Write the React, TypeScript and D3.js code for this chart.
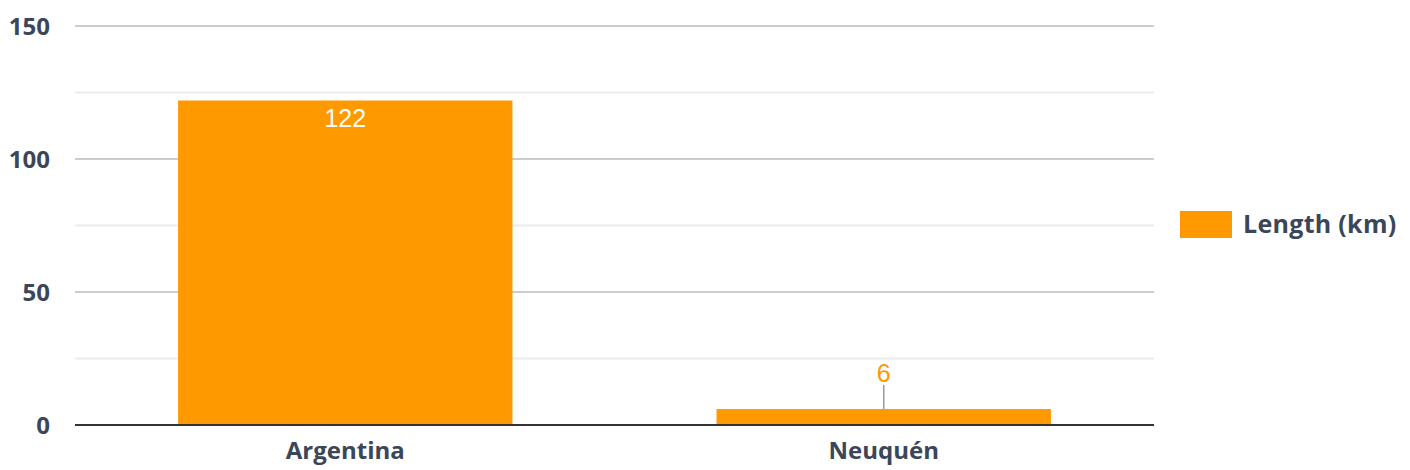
import React from "react";
import * as d3 from "d3";

const categories = ["Argentina", "Neuquén"];
const lengths = [122, 6];
const yTicks = [0, 50, 100, 150];
const minorTicks = [25, 75, 125];
const seriesName = "Length (km)";

const W = 1410;
const H = 470;
const M = { left: 75, right: 1154, top: 26, bottom: 425 };
const ORANGE = "#ff9900";
const TEXT = "#3b4658";

export default function App() {
  const x = d3.scaleBand<string>().domain(categories).range([M.left, M.right]).paddingInner(0.379).paddingOuter(0.1914);
  const y = d3.scaleLinear().domain([0, 150]).range([M.bottom, M.top]);
  return (
    <svg width={W} height={H} style={{ position: "absolute", left: 0, top: 0 }}>
      <rect width={W} height={H} fill="#fff" />
      {minorTicks.map((t) => (
        <line key={"m" + t} x1={M.left} x2={M.right} y1={y(t)} y2={y(t)} stroke="#ebebeb" strokeWidth={2} />
      ))}
      {yTicks.filter((t) => t > 0).map((t) => (
        <line key={"g" + t} x1={M.left} x2={M.right} y1={y(t)} y2={y(t)} stroke="#cccccc" strokeWidth={2} />
      ))}
      {yTicks.map((t) => (
        <text key={"t" + t} x={50} y={y(t)} dy="0.36em" textAnchor="end" fontFamily="'Open Sans', sans-serif" fontWeight={700} fontSize={24} fill={TEXT}>
          {t}
        </text>
      ))}
      {categories.map((c, i) => {
        const v = lengths[i];
        const bx = x(c)!;
        const bw = x.bandwidth();
        const top = y(v);
        const cx = bx + bw / 2;
        const inside = M.bottom - top > 40;
        return (
          <g key={c}>
            <rect x={bx} y={top} width={bw} height={M.bottom - top} fill={ORANGE} />
            {inside ? (
              <text x={cx} y={top + 27} textAnchor="middle" fontFamily="'Liberation Sans', Arial, sans-serif" fontSize={25} fill="#fff">
                {v}
              </text>
            ) : (
              <g>
                <line x1={cx} x2={cx} y1={top} y2={top - 24} stroke="#999" strokeWidth={1.5} />
                <text x={cx} y={top - 27} textAnchor="middle" fontFamily="'Liberation Sans', Arial, sans-serif" fontSize={25} fill={ORANGE}>
                  {v}
                </text>
              </g>
            )}
            <text x={cx} y={459} textAnchor="middle" fontFamily="'Open Sans', sans-serif" fontWeight={700} fontSize={24} fill={TEXT}>
              {c}
            </text>
          </g>
        );
      })}
      <line x1={M.left} x2={M.right} y1={M.bottom} y2={M.bottom} stroke="#333" strokeWidth={2} />
      <rect x={1180} y={211} width={52} height={27} fill={ORANGE} />
      <text x={1243} y={233} fontFamily="'Open Sans', sans-serif" fontWeight={700} fontSize={25} letterSpacing={0.3} fill={TEXT}>
        {seriesName}
      </text>
    </svg>
  );
}
